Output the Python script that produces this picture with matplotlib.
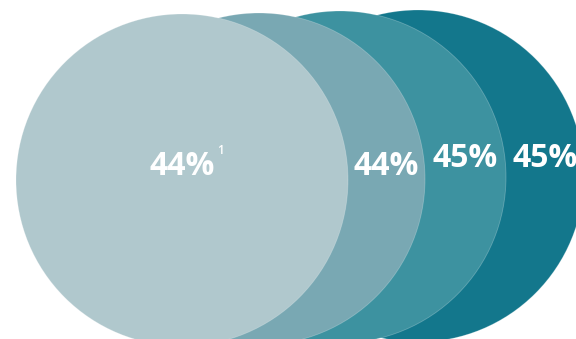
import matplotlib
matplotlib.use("Agg")
import matplotlib.pyplot as plt
from matplotlib.patches import Circle

# Share values, one per circle (front to back)
values = [44, 44, 45, 45]
labels = ["44%", "44%", "45%", "45%"]
footnotes = ["1", "", "", ""]
colors = ["#B0C8CD", "#79A8B3", "#3D92A0", "#13778C"]

# Circle layout in pixel units
centers_x = [182, 259, 340, 418]
centers_y = [180, 179, 177, 176]
radius = 166
label_base_y = [175, 175, 167, 167]

W, H = 576, 339
fig = plt.figure(figsize=(W / 100, H / 100), dpi=100)
ax = fig.add_axes([0, 0, 1, 1])
ax.set_xlim(0, W)
ax.set_ylim(H, 0)
ax.set_aspect("equal")
ax.axis("off")

n = len(values)
for i in range(n):
    circ = Circle((centers_x[i], centers_y[i]), radius, facecolor=colors[i],
                  edgecolor=(1, 1, 1, 0.25), linewidth=0.6, zorder=n - i)
    ax.add_patch(circ)

# Labels sit in the visible part of each circle
for i in range(n):
    if i == 0:
        lx = centers_x[0]
    else:
        lx = (centers_x[i - 1] + centers_x[i]) / 2 + radius
    ax.text(lx, label_base_y[i], labels[i], ha="center", va="baseline",
            color="white", fontsize=23, fontweight="bold",
            family="Open Sans", zorder=10)
    if footnotes[i]:
        ax.text(lx + 35, label_base_y[i] - 21, footnotes[i], ha="left",
                va="baseline", color="white", fontsize=8.5,
                fontweight="semibold", family="Open Sans", zorder=10)

fig.savefig("out.png", dpi=100)
